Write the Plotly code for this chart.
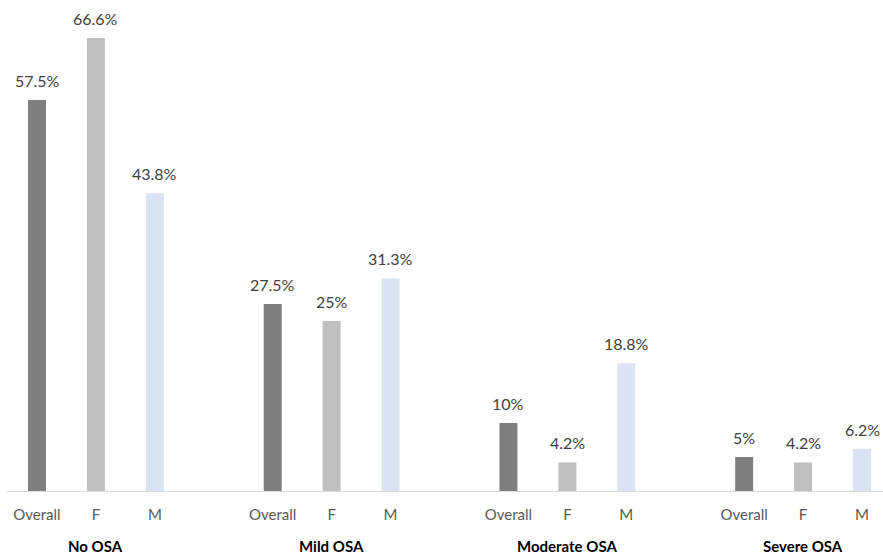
import plotly.graph_objects as go

groups = ["No OSA", "Mild OSA", "Moderate OSA", "Severe OSA"]
subcats = ["Overall", "F", "M"]
overall = [57.5, 27.5, 10, 5]
female = [66.6, 25, 4.2, 4.2]
male = [43.8, 31.3, 18.8, 6.2]

colors = ["#7f7f7f", "#bfbfbf", "#dae3f3"]
series = [overall, female, male]

def fmt(v):
    return f"{v:g}%"

xs, ys, cs, ts, tickvals, ticktext = [], [], [], [], [], []
for gi, g in enumerate(groups):
    for si, s in enumerate(subcats):
        x = gi * 4 + si
        xs.append(x)
        ys.append(series[si][gi])
        cs.append(colors[si])
        ts.append(fmt(series[si][gi]))
        tickvals.append(x)
        ticktext.append(s)

fig = go.Figure()
fig.add_trace(go.Bar(
    x=xs, y=ys, marker=dict(color=cs, line=dict(width=0)),
    width=0.305, hoverinfo="skip",
))

for x, y, t in zip(xs, ys, ts):
    fig.add_annotation(x=x, y=y, xref="x", yref="y", yanchor="bottom",
                       yshift=8, text=t, showarrow=False,
                       font=dict(family="Lato, sans-serif", size=16, color="#404040"))

for gi, g in enumerate(groups):
    fig.add_annotation(x=gi * 4 + 1, y=0, xref="x", yref="paper",
                       yanchor="bottom", yshift=-66, text=f"<b>{g}</b>",
                       showarrow=False,
                       font=dict(family="Lato, sans-serif", size=15, color="#000000"))

fig.update_layout(
    width=883, height=558,
    margin=dict(l=7, r=0, t=0, b=67),
    paper_bgcolor="white", plot_bgcolor="white",
    showlegend=False,
    xaxis=dict(range=[-0.509, 14.356], tickvals=tickvals, ticktext=ticktext,
               showgrid=False, zeroline=False, showline=True,
               linecolor="#d9d9d9", linewidth=1, ticks="",
               tickfont=dict(family="Lato, sans-serif", size=15, color="#595959"),
               ticklabelstandoff=10),
    yaxis=dict(range=[0, 72.2], visible=False, showgrid=False, zeroline=False),
)

fig.write_html("out.html")
